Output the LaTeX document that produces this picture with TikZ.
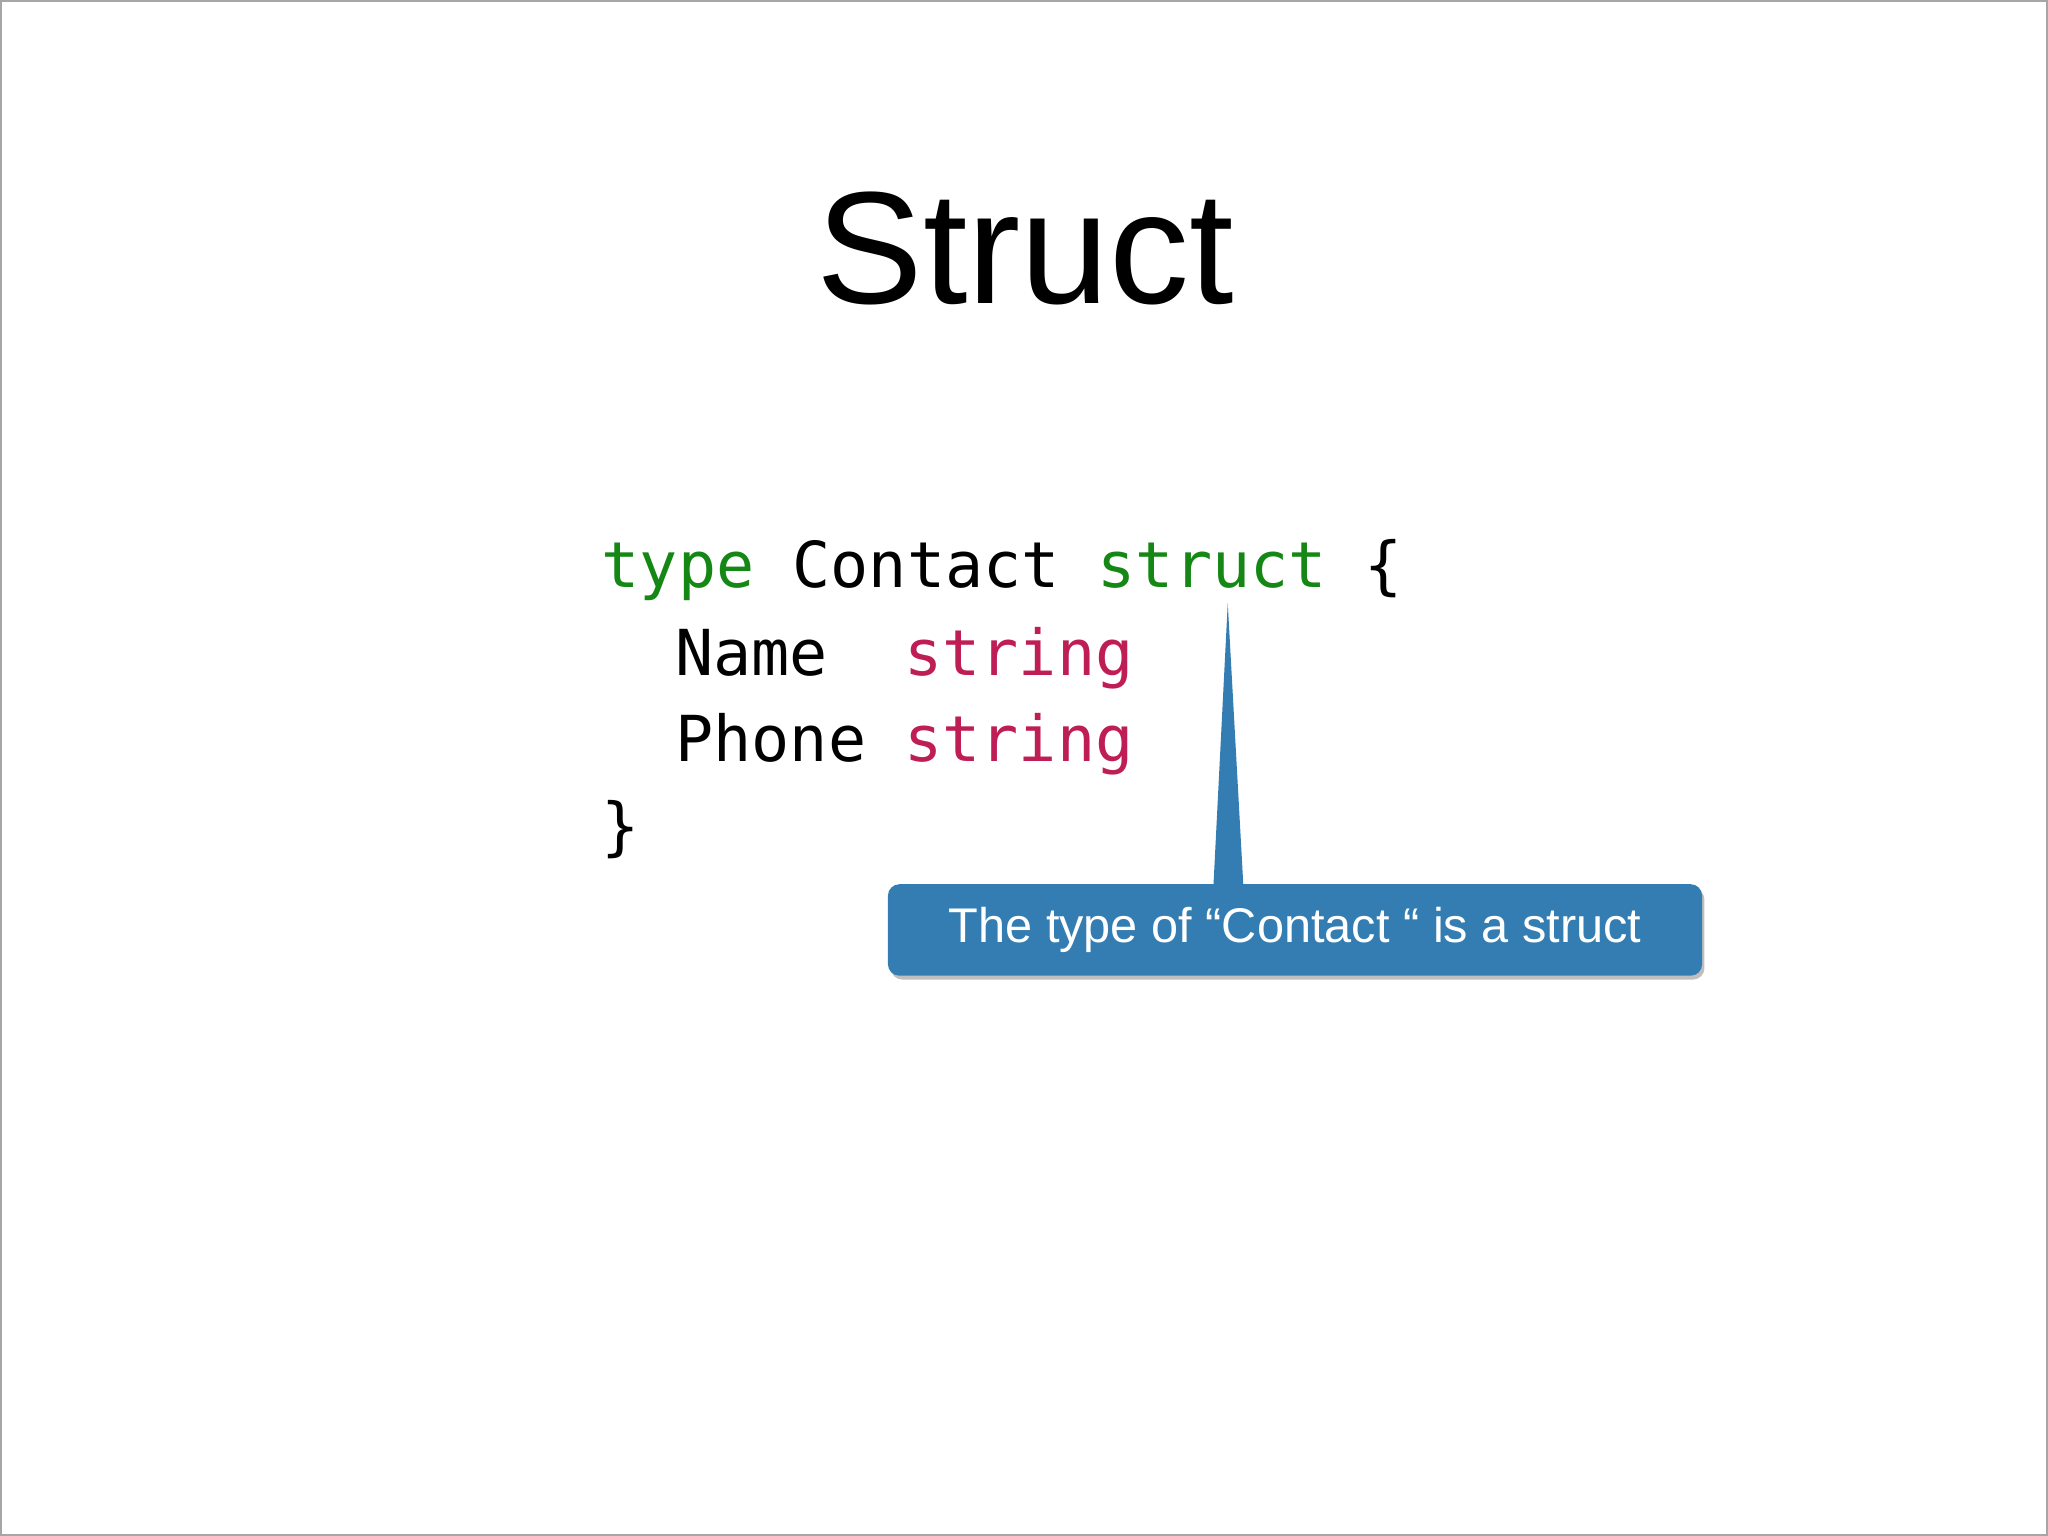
\documentclass[tikz,border=0pt]{standalone}
\usepackage{fontspec}
\setmainfont{Liberation Sans}
\newfontfamily\codefont{DejaVu Sans Mono}
\definecolor{kwgreen}{RGB}{20,135,20}
\definecolor{strred}{RGB}{190,30,85}
\definecolor{callblue}{RGB}{52,125,178}
\begin{document}
\begin{tikzpicture}[x=0.01cm,y=-0.01cm,
  code/.style={anchor=base west,inner sep=0,font=\codefont\fontsize{13.8pt}{16pt}\selectfont}]
\useasboundingbox (0,0) rectangle (1568,1176);
\draw[gray!70,line width=0.6pt] (0.5,0.5) rectangle (1567.5,1175.5);
\node[anchor=base,inner sep=0,font=\fontsize{34.8pt}{40pt}\selectfont] (title) at (785,232) {Struct};
\node[code] (l1) at (460,450) {\textcolor{kwgreen}{type} Contact \textcolor{kwgreen}{struct} \{};
\node[code] (l2) at (458,517) {\ \ Name\ \ \textcolor{strred}{string}};
\node[code] (l3) at (458,583) {\ \ Phone \textcolor{strred}{string}};
\node[code] (l4) at (460,650) {\}};
\fill[black!25,rounded corners=2.5pt] (682,680) rectangle (1305,750);
\fill[callblue] (929,679) -- (940,462) -- (952,679) -- cycle;
\node[fill=callblue,rounded corners=2.5pt,minimum width=6.23cm,minimum height=0.70cm,inner sep=0,
  text=white,font=\fontsize{10.6pt}{12pt}\selectfont] (call) at (991.5,712) {\raisebox{-1.5pt}{The type of “Contact “ is a struct}};
\end{tikzpicture}
\end{document}
